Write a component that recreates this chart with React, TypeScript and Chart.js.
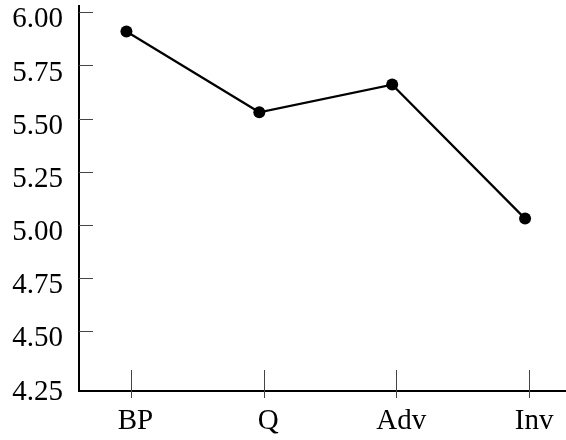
import React, { useEffect, useRef } from "react";
import { Chart, registerables } from "chart.js";

Chart.register(...registerables);

const categories = ["BP", "Q", "Adv", "Inv"];
const values = [5.91, 5.53, 5.66, 5.03];
const yTickValues = [4.25, 4.5, 4.75, 5.0, 5.25, 5.5, 5.75, 6.0];
const yTickLabels = ["4.25", "4.50", "4.75", "5.00", "5.25", "5.50", "5.75", "6.00"];

const Y_MIN = 4.2195;
const Y_MAX = 6.0296;
const X_MIN = -0.357;
const X_MAX = 3.308;

const FONT = "'Liberation Serif', 'DejaVu Serif', serif";
const X_TICK_SHIFT = 4.3;

const tickMarks = {
  id: "tickMarks",
  afterDraw(chart: any) {
    const ctx = chart.ctx;
    const xs = chart.scales.x;
    const ys = chart.scales.y;
    const area = chart.chartArea;
    ctx.save();
    ctx.strokeStyle = "#444";
    ctx.lineWidth = 1;
    xs.ticks.forEach((t: any) => {
      const px = Math.round(xs.getPixelForValue(t.value) + X_TICK_SHIFT) + 0.5;
      ctx.beginPath();
      ctx.moveTo(px, area.bottom - 21);
      ctx.lineTo(px, area.bottom + 7);
      ctx.stroke();
    });
    ys.ticks.forEach((t: any, i: number) => {
      if (i === 0) return;
      const py = Math.round(ys.getPixelForValue(t.value)) + 0.5;
      ctx.beginPath();
      ctx.moveTo(area.left, py);
      ctx.lineTo(area.left + 14, py);
      ctx.stroke();
    });
    ctx.restore();
  },
};

export default function App() {
  const ref = useRef<HTMLCanvasElement | null>(null);

  useEffect(() => {
    if (!ref.current) return;
    const chart = new Chart(ref.current, {
      type: "line",
      data: {
        datasets: [
          {
            data: values.map((v, i) => ({ x: i, y: v })),
            borderColor: "#000",
            borderWidth: 2.2,
            pointRadius: 6,
            pointBackgroundColor: "#000",
            pointBorderWidth: 0,
            pointHoverRadius: 6,
            tension: 0,
            fill: false,
            clip: false,
          },
        ],
      },
      options: {
        responsive: false,
        animation: false,
        events: [],
        layout: { autoPadding: false, padding: { top: 6, right: 0, left: 0, bottom: 0 } },
        plugins: {
          legend: { display: false },
          tooltip: { enabled: false },
        },
        scales: {
          x: {
            type: "linear",
            min: X_MIN,
            max: X_MAX,
            afterBuildTicks: (s: any) => {
              s.ticks = categories.map((_, i) => ({ value: i }));
            },
            afterFit: (s: any) => {
              s.height = 49;
              s.paddingLeft = 0;
              s.paddingRight = 0;
            },
            grid: { display: false, drawTicks: false },
            border: { display: true, color: "#000", width: 2 },
            ticks: {
              color: "#000",
              font: { family: FONT, size: 29 },
              padding: 13,
              labelOffset: 9,
              maxRotation: 0,
              autoSkip: false,
              callback: (v: any) => categories[v as number] ?? "",
            },
          },
          y: {
            type: "linear",
            min: Y_MIN,
            max: Y_MAX,
            afterBuildTicks: (s: any) => {
              s.ticks = yTickValues.map((v) => ({ value: v }));
            },
            afterFit: (s: any) => {
              s.width = 79;
              s.paddingTop = 0;
              s.paddingBottom = 0;
            },
            grid: { display: false, drawTicks: false },
            border: { display: true, color: "#000", width: 2 },
            ticks: {
              color: "#000",
              font: { family: FONT, size: 29 },
              padding: 16,
              labelOffset: 7.5,
              autoSkip: false,
              callback: (_v: any, i: number) => yTickLabels[i],
            },
          },
        },
      },
      plugins: [tickMarks],
    });
    return () => chart.destroy();
  }, []);

  return (
    <div style={{ position: "absolute", left: 0, top: 0, width: 566, height: 440, background: "#fff" }}>
      <canvas ref={ref} width={566} height={440} />
    </div>
  );
}
